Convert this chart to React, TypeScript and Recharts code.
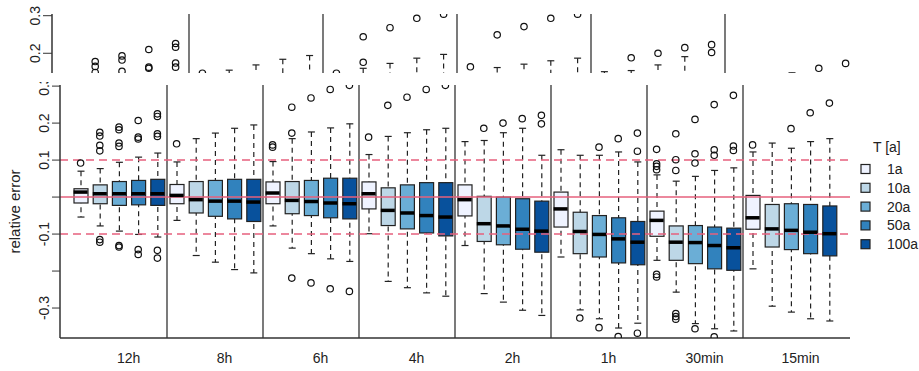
import React from 'react';
import { ComposedChart, Bar, Scatter, XAxis, YAxis, ReferenceLine } from 'recharts';

// groups of 5 boxes, one per return period
const GROUPS = ['12h', '8h', '6h', '4h', '2h', '1h', '30min', '15min'];
const PERIODS = ['1a', '10a', '20a', '50a', '100a'];
const BLUES = ['#EFF3FF', '#BDD7E7', '#6BAED6', '#3182BD', '#08519C'];

const HI = [
  0.070, 0.077, 0.094, 0.108, 0.119,
  0.095, 0.158, 0.173, 0.186, 0.195,
  0.096, 0.158, 0.176, 0.187, 0.198,
  0.115, 0.164, 0.174, 0.182, 0.186,
  0.150, 0.153, 0.174, 0.186, 0.113,
  0.128, 0.113, 0.113, 0.122, 0.095,
  0.060, 0.043, 0.056, 0.072, 0.079,
  0.122, 0.146, 0.132, 0.150, 0.158,
];
const Q3 = [
  0.0225, 0.033, 0.042, 0.045, 0.048,
  0.034, 0.042, 0.045, 0.048, 0.048,
  0.041, 0.042, 0.045, 0.051, 0.051,
  0.041, 0.025, 0.033, 0.039, 0.039,
  0.033, 0.002, 0.0, -0.0045, -0.011,
  0.0135, -0.041, -0.050, -0.056, -0.066,
  -0.038, -0.078, -0.077, -0.081, -0.084,
  0.0045, -0.020, -0.018, -0.020, -0.024,
];
const MED = [
  0.0135, 0.009, 0.009, 0.009, 0.009,
  0.0045, -0.007, -0.011, -0.011, -0.0135,
  0.011, -0.009, -0.012, -0.016, -0.018,
  0.009, -0.036, -0.043, -0.050, -0.054,
  -0.007, -0.072, -0.078, -0.087, -0.092,
  -0.032, -0.093, -0.101, -0.113, -0.122,
  -0.063, -0.122, -0.123, -0.131, -0.137,
  -0.056, -0.086, -0.090, -0.095, -0.099,
];
const Q1 = [
  -0.016, -0.018, -0.0225, -0.021, -0.0225,
  -0.018, -0.043, -0.052, -0.059, -0.066,
  -0.018, -0.045, -0.050, -0.056, -0.059,
  -0.032, -0.077, -0.086, -0.097, -0.105,
  -0.051, -0.120, -0.129, -0.141, -0.149,
  -0.081, -0.153, -0.162, -0.178, -0.183,
  -0.106, -0.171, -0.180, -0.194, -0.198,
  -0.087, -0.135, -0.142, -0.153, -0.159,
];
const LO = [
  -0.054, -0.078, -0.092, -0.101, -0.108,
  -0.063, -0.158, -0.176, -0.196, -0.205,
  -0.078, -0.138, -0.153, -0.167, -0.174,
  -0.099, -0.228, -0.245, -0.259, -0.268,
  -0.131, -0.261, -0.284, -0.306, -0.320,
  -0.162, -0.305, -0.329, -0.354, -0.341,
  -0.171, -0.257, -0.342, -0.356, -0.362,
  -0.194, -0.295, -0.311, -0.329, -0.335,
];
const OUTLIERS: number[][] = [
  [0.092], [0.175, 0.165, 0.14, 0.125, -0.115, -0.122], [0.189, 0.182, 0.146, 0.137, -0.131, -0.135],
  [0.207, 0.162, 0.157, -0.142, -0.155], [0.225, 0.218, 0.171, 0.164, -0.144, -0.165],
  [0.144], [], [], [], [],
  [0.141, 0.135], [0.243, 0.173, -0.219], [0.268, -0.232], [0.291, -0.248], [0.302, -0.255],
  [0.162], [0.248], [0.270], [0.291], [0.302],
  [], [0.186], [0.200], [0.212], [0.221, 0.198],
  [], [-0.327], [0.135, -0.353], [0.158, -0.377], [0.173, 0.124, -0.368],
  [0.129, 0.090, 0.083, 0.074, -0.209, -0.216], [0.171, 0.101, 0.072, -0.315, -0.323, -0.330],
  [0.210, 0.117, 0.092, -0.356], [0.250, 0.128, 0.113, -0.378], [0.275, 0.138, 0.126],
  [0.141], [], [0.185], [0.228], [0.254],
];

const Y_TICKS = [-0.3, -0.2, -0.1, 0, 0.1, 0.2, 0.3];
const Y_LABELS: Record<string, string> = { '0.3': '0.3', '0.2': '0.2', '0.1': '0.1', '-0.1': '-0.1', '-0.3': '-0.3' };

// partly visible panel of a previous figure (cropped at the top)
const TOP_CAPS: (number | null)[] = [
  null, null, null, null, null,
  null, 0.155, 0.169, 0.184, 0.194,
  null, 0.160, 0.173, 0.187, 0.197,
  null, 0.162, 0.171, 0.180, 0.187,
  0.151, 0.154, 0.169, 0.191, null,
  null, null, 0.148, null, null,
];
const TOP_OUTLIERS: number[][] = [
  [], [0.178, 0.165, 0.149], [0.193, 0.182, 0.152], [0.210, 0.163, 0.160], [0.226, 0.216, 0.174, 0.163],
  [0.147], [], [], [], [],
  [0.147], [0.244, 0.176], [0.268], [0.293], [0.304],
  [0.164], [0.249], [0.271], [0.293], [0.304],
  [], [0.188], [0.200], [0.215], [0.223, 0.202],
  [], [], [], [0.160], [0.173],
];
const TOP_TICKS = [0.2, 0.3];

const FONT = '"Liberation Sans", Arial, Helvetica, sans-serif';
const PINK = '#E6607D';
const FRAME = '#333';

const rows = MED.map((m, i) => ({
  pos: i + 1,
  box: [Q1[i], Q3[i]],
  whisker: [LO[i], HI[i]],
  med: m,
  color: BLUES[i % 5],
}));
const outlierPts = OUTLIERS.flatMap((vs, i) => vs.map((v) => ({ pos: i + 1, v })));
const labelTicks = GROUPS.map((_, g) => g * 5 + 3.5);
const separators = GROUPS.slice(1).map((_, g) => (g + 1) * 5 + 0.5);

const topCaps = TOP_CAPS.map((v, i) => ({ pos: i + 1, v })).filter((d) => d.v !== null);
const topOutliers = TOP_OUTLIERS.flatMap((vs, i) => vs.map((v) => ({ pos: i + 1, v })));
const topSeparators = [5.5, 10.5, 15.5, 20.5, 25.5];

const Whisker = (p: any) => {
  const cx = p.x + p.width / 2;
  const top = Math.min(p.y, p.y + p.height);
  const bot = Math.max(p.y, p.y + p.height);
  return (
    <g stroke="#222" strokeWidth={1.2}>
      <line x1={cx} x2={cx} y1={top} y2={bot} strokeDasharray="5 4" />
      <line x1={cx - 3.5} x2={cx + 3.5} y1={top} y2={top} />
      <line x1={cx - 3.5} x2={cx + 3.5} y1={bot} y2={bot} />
    </g>
  );
};

const BoxRect = (p: any) => (
  <rect
    x={p.x}
    y={Math.min(p.y, p.y + p.height)}
    width={p.width}
    height={Math.abs(p.height)}
    fill={p.payload.color}
    stroke="#222"
    strokeWidth={1.2}
  />
);

const Median = (p: any) => (
  <line x1={p.cx - 7} x2={p.cx + 7} y1={p.cy} y2={p.cy} stroke="#000" strokeWidth={3.5} />
);

const Outlier = (p: any) => (
  <circle cx={p.cx} cy={p.cy} r={3.2} fill="none" stroke="#111" strokeWidth={1.2} />
);

const TopCap = (p: any) => (
  <g stroke="#222" strokeWidth={1.2}>
    <line x1={p.cx - 3.5} x2={p.cx + 3.5} y1={p.cy} y2={p.cy} />
    <line x1={p.cx} x2={p.cx} y1={p.cy} y2={p.cy + 40} strokeDasharray="5 4" />
  </g>
);

const YTick = ({ x, y, payload }: any) => {
  const label = Y_LABELS[String(payload.value)];
  if (!label) return null;
  return (
    <text x={x} y={y} transform={`rotate(-90, ${x}, ${y})`} textAnchor="middle" fontSize={14} fill="#222">
      {label}
    </text>
  );
};

const YLabel = ({ viewBox }: any) => {
  const cy = viewBox.y + viewBox.height / 2;
  return (
    <text x={20} y={cy} transform={`rotate(-90, 20, ${cy})`} textAnchor="middle" fontSize={15} fill="#222">
      relative error
    </text>
  );
};

function TopPanel() {
  return (
    <ComposedChart width={919} height={170} margin={{ top: 14, right: 57, left: 0, bottom: 4 }}>
      <XAxis dataKey="pos" type="number" domain={[0.5, 30.5]} padding={{ left: 3, right: 3 }} allowDataOverflow hide />
      <XAxis xAxisId="top" orientation="top" type="number" domain={[0, 1]} height={0} tick={false} tickLine={false}
        axisLine={{ stroke: FRAME, strokeWidth: 1.5 }} />
      <YAxis type="number" domain={[-0.1, 0.3045]} allowDataOverflow ticks={TOP_TICKS} interval={0} width={52}
        tickSize={9} tickMargin={3} tick={<YTick />} tickLine={{ stroke: FRAME }} axisLine={{ stroke: FRAME, strokeWidth: 1.5 }} />
      <YAxis yAxisId="r" orientation="right" type="number" domain={[0, 1]} width={0} tick={false} tickLine={false}
        axisLine={{ stroke: FRAME, strokeWidth: 1.5 }} />
      {topSeparators.map((s) => (
        <ReferenceLine key={s} x={s} stroke={FRAME} strokeWidth={1.3} />
      ))}
      <Scatter data={topCaps} dataKey="v" shape={TopCap} isAnimationActive={false} />
      <Scatter data={topOutliers} dataKey="v" shape={Outlier} isAnimationActive={false} />
    </ComposedChart>
  );
}

function Legendbox() {
  return (
    <svg width={69} height={130} style={{ position: 'absolute', left: 850, top: 130 }}>
      <text x={23} y={22} fontSize={14} fill="#222">T [a]</text>
      {PERIODS.map((p, i) => (
        <g key={p}>
          <rect x={11} y={34.5 + i * 18.8} width={9} height={9} fill={BLUES[i]} stroke="#222" strokeWidth={1.2} />
          <text x={37} y={44 + i * 18.8} fontSize={14} fill="#222">{p}</text>
        </g>
      ))}
    </svg>
  );
}

export default function App() {
  return (
    <div style={{ position: 'absolute', left: 0, top: 0, width: 919, height: 371, background: '#fff', fontFamily: FONT }}>
      <div style={{ position: 'absolute', left: 0, top: 0 }}>
        <ComposedChart width={919} height={371} data={rows} margin={{ top: 85, right: 69, left: 0, bottom: 0 }}>
          <XAxis dataKey="pos" type="number" domain={[0.5, 40.5]} padding={{ left: 11, right: 11 }} allowDataOverflow
            ticks={labelTicks} interval={0} height={33} tickLine={false} tickSize={5} tickMargin={10}
            tickFormatter={(v: number) => GROUPS[Math.round((v - 3.5) / 5)]}
            tick={{ fontSize: 14, fill: '#222' }} axisLine={{ stroke: FRAME, strokeWidth: 1.5 }} />
          <XAxis xAxisId="main" dataKey="pos" type="category" padding={{ left: 11, right: 11 }} hide />
          <XAxis xAxisId="w" dataKey="pos" type="category" padding={{ left: 11, right: 11 }} hide />
          <XAxis xAxisId="top" orientation="top" type="number" domain={[0, 1]} height={0} tick={false} tickLine={false}
            axisLine={{ stroke: FRAME, strokeWidth: 1.5 }} />
          <YAxis type="number" domain={[-0.381, 0.303]} allowDataOverflow ticks={Y_TICKS} interval={0} width={60}
            tickSize={8} tickMargin={3} tick={<YTick />} tickLine={{ stroke: FRAME }}
            axisLine={{ stroke: FRAME, strokeWidth: 1.5 }} label={<YLabel />} />
          <YAxis yAxisId="r" orientation="right" type="number" domain={[0, 1]} width={0} tick={false} tickLine={false}
            axisLine={{ stroke: FRAME, strokeWidth: 1.5 }} />
          {separators.map((s) => (
            <ReferenceLine key={s} x={s} stroke={FRAME} strokeWidth={1.3} />
          ))}
          <Bar xAxisId="w" dataKey="whisker" barSize={14} shape={Whisker} isAnimationActive={false} />
          <Bar xAxisId="main" dataKey="box" barSize={14} shape={BoxRect} isAnimationActive={false} />
          <Scatter data={rows} dataKey="med" shape={Median} isAnimationActive={false} />
          <Scatter data={outlierPts} dataKey="v" shape={Outlier} isAnimationActive={false} />
          <ReferenceLine y={0} stroke={PINK} strokeWidth={1.5} />
          <ReferenceLine y={0.1} stroke={PINK} strokeWidth={1.5} strokeDasharray="8 5" />
          <ReferenceLine y={-0.1} stroke={PINK} strokeWidth={1.5} strokeDasharray="8 5" />
        </ComposedChart>
      </div>
      <div style={{ position: 'absolute', left: 0, top: 0, width: 919, height: 82, overflow: 'hidden', background: '#fff' }}>
        <div style={{ height: 73, overflow: 'hidden' }}>
          <TopPanel />
        </div>
      </div>
      <Legendbox />
    </div>
  );
}
